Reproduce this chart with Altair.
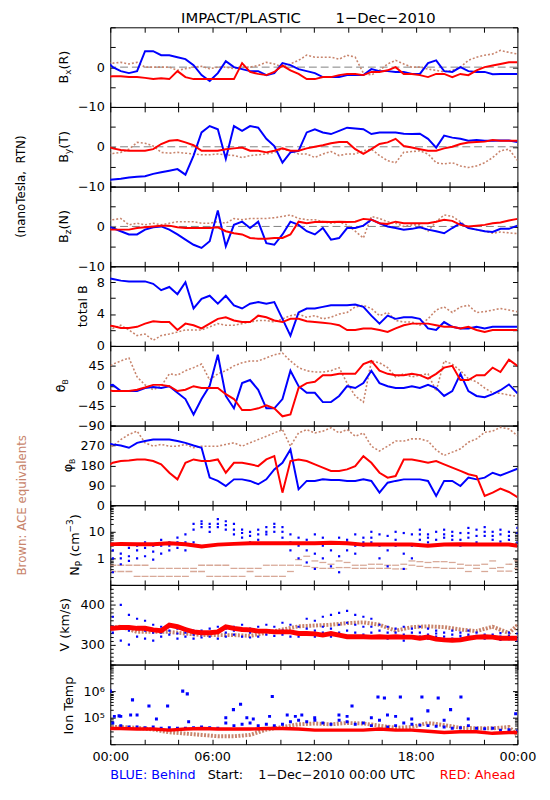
import altair as alt
import pandas as pd

W, H = 414, 81
BLUE, RED, BROWN, GRAY = "#0000ff", "#ff0000", "#c8846c", "#808080"
FONT = "DejaVu Sans"

# ---------------- time grids (hours of 1-Dec-2010) ----------------
T_HALF = [-0.33, 0.15, 0.62, 1.10, 1.58, 2.05, 2.53, 3.00, 3.48, 3.96, 4.43, 4.91,
          5.38, 5.86, 6.34, 6.81, 7.29, 7.77, 8.24, 8.72, 9.20, 9.67, 10.15, 10.62,
          11.10, 11.58, 12.06, 12.53, 13.01, 13.49, 13.96, 14.44, 14.92, 15.39, 15.87,
          16.35, 16.82, 17.30, 17.78, 18.25, 18.73, 19.21, 19.68, 20.16, 20.64, 21.11,
          21.59, 22.07, 22.54, 23.0, 23.5, 24.0]
T_HOUR = [-0.33, 0.62, 1.58, 2.53, 3.48, 4.43, 5.39, 6.34, 7.29, 8.24, 9.20, 10.15,
          11.10, 12.05, 13.01, 13.96, 14.91, 15.86, 16.82, 17.77, 18.72, 19.68, 20.63,
          21.58, 22.53, 23.5, 24.0]

# ---------------- Bx (R) ----------------
BX_BLUE = [2, 0, -1, -1.5, -1, 4, 4, 3, 3, 2.5, 2, 0.5, -2, -3.5, -1.5, 1.5, 0, -0.5, -1, -1, -2, -1.5, 1, 0.5,
           -0.5, -1, -1.5, -2.5, -2.5, -2.5, -2, -2, -2, -0.5, -1, -1, -1.2, -1.2, -1.7, -1.7, 1, 1.7, -1, -1.2,
           0, -1, -1.2, -1.2, -1.8, -1.7, -1.7, -1.7]
BX_RED = [-2.5, -2.3, -2.3, -2.5, -2.5, -2.7, -3, -2.8, -3, -1, -2.5, -3, -3, -3, -3, -3, -3, 1, -1.2, -1.7, -2,
          -1.2, 0.4, -0.8,
          -1.7, -3, -3, -2.5, -2.5, -2, -1.7, -1.7, -2, -1.2, -1.2, -0.8, 0, -1.7, -1.7, -2, -2.5, -1.7, -1.7,
          -2.5, -1.7, -2, -0.8, 0, 0.4, 0.8, 1.2, 1.2]
BX_BROWN = [1.2, 1, 1.2, 0.8, 1.2, 0, 0, 0, 0, -0.8, -0.4, 0, 0.2, -0.4, 0, 0, -0.4, 0, 0, 0.4, 1.2, 0.8, 0, 0.8,
            1.7, 3, 2.5, 2.5, 2.5, 2, 3, 2.5, -1.5, -2, -0.8, 0.8, 1.7, 0.8, 0, 0, -0.5, -0.8, -1.2, -0.8, 0,
            1.7, 2.5, 3, 3.3, 4.2, 3.7, 3.3]

# ---------------- By (T) ----------------
BY_BLUE = [-8.5, -8.2, -8, -7.7, -7.5, -7.4, -6.8, -6.4, -6, -5.6, -7, -2.2, 3.6, 5.2, 4.4, -3, 5.2, 4, 5.2, 4.8,
           2, 0.2, -4, -1.4,
           -1, 3.6, 4.4, 3.6, 3.2, 4, 4.8, 4.6, 4.4, 3.2, 3.6, 3.6, 3.6, 3.3, 3.2, 3.3, 2, -0.2, 2.8, 2.3, 2,
           1.5, 1.7, 1.5, 1.5, 1.6, 1.6, 1.2]
BY_RED = [0.4, -0.4, -0.8, -1, -1, -1, -0.6, 0.7, 1.5, 1.7, 1.1, 0.4, -1, -1, -1, -0.6, -0.4, -0.2, -1, -1, -1.4,
          -1, -0.4, -1,
          -1, -0.4, 0, 0.4, 0.9, 1.2, 1.2, -0.6, -1.8, -0.6, 0.7, 1.1, 2, 0.2, -0.2, -0.6, -1, -1, -0.4, 0, 0.7,
          1.1, 1.2, 1.3, 1.7, 1.5, 1.5, 1.5]
BY_BROWN = [-1.4, -1.7, -1.4, -0.6, 1.1, 0.9, 0.2, -1.4, -1.6, -1.4, -1.6, -1.8, -2, -2, -1.8, -2, -2.2, -2.7,
            -2.2, -2, -1.8, -1.4, -0.6, -1,
            -1.8, -1.8, -2.7, -1.8, -1.2, -2.2, -1.8, -1.8, -1, -0.6, -2.2, -3.5, -4, -1.4, -1.2, -1, -1.8, -4,
            -4.3, -4, -4.8, -5.2, -4.8, -4, -2.7, -1, -0.6, -3.4]

# ---------------- Bz (N) ----------------
BZ_BLUE = [0.4, -0.4, -1.2, -2, -2, -0.8, -0.2, 0, -0.8, -2, -3.3, -4.6, -5.4, -3.7, 4, -5, 0.4, 1.2, -0.4, 1.2,
           -4.2, -4.6, -2, 1.2,
           0.4, -1.2, -2, -0.4, -3.3, -2.9, -0.4, -0.4, 0.2, 1.7, 0.8, 0, -0.4, -0.8, -0.6, -0.2, -0.8, -1.2,
           -1.7, -0.4, 0.8, -0.4, -0.8, -1.2, -1.4, -0.6, -0.6, 0.2]
BZ_RED = [-0.8, -0.8, -0.8, -0.8, -0.4, -0.2, 0, 0.2, 0.2, -0.2, -0.4, -0.4, -0.4, -0.4, -0.2, -1.2, -1.7, -2,
          -2.9, -3.1, -3.1, -2.9, -2.9, -2,
          1.2, 0.8, 1.1, 1.2, 1.1, 1.2, 1.1, 1.2, 1.9, 1.7, 0.8, 0.6, 1.2, 0.8, 0.8, 0.8, 0.8, 1.2, 1.7, 1.4,
          0.4, 0, 0.2, 0.4, 0.8, 1, 1.5, 1.9]
BZ_BROWN = [1.2, 1.7, 2, 0.4, 0.8, 0.4, 0.8, 0.4, 0.8, 1.2, 1.2, 1.2, 0.8, 0.8, 1.2, 0.8, 2, 1.7, 2, 2, 2, 2.2,
            2.5, 2.9,
            2, 1.7, 1.7, 1.2, 0.8, 1.1, 0.4, -1.2, -2.9, 2.5, 2, 1.2, 0.8, 0, 0.4, 0.4, -1.2, 1.2, 2.9, 2.5,
            1.2, -0.4, -0.8, -1.2, -1.7, -1.4, -1.6, -1.8]

# ---------------- total B ----------------
BT_BLUE = [8.6, 8.4, 8.2, 8.1, 8.1, 8.1, 7.8, 7, 7.4, 6.5, 8, 4.7, 5.9, 6.3, 5.3, 6.3, 5.1, 4.7, 5.3, 5.5, 5.3,
           5.5, 3.4, 1.3,
           4.2, 4.7, 4.7, 4.9, 5.1, 5.1, 5.1, 5.2, 4.9, 3.8, 2.8, 3.8, 3.4, 3.6, 3.6, 3.4, 2.2, 2, 3, 2.4, 2.2,
           2.2, 2.4, 2.2, 2.4, 2.4, 2.4, 2.4]
BT_RED = [2.6, 2.5, 2.25, 2.25, 2.4, 2.8, 3.1, 3, 3, 2, 2.8, 2.6, 2.2, 2.8, 3.4, 3.6, 3.2, 3, 3, 3.8, 3.6, 3.2,
          3, 3.4,
          3.4, 3.1, 3, 2.9, 2.8, 2.6, 2, 2, 2.2, 2.2, 2, 1.75, 2.2, 2.6, 2.8, 2.8, 2.8, 2.6, 2.4, 2.4, 2.2, 2.4,
          2, 1.75, 2, 2, 2, 2]
BT_BROWN = [2.4, 2.2, 2.6, 2, 1.3, 1.5, 0.7, 1.3, 1.5, 1.75, 2, 2, 2, 2.4, 2.8, 2.6, 2.6, 2.8, 3, 3.2, 3.2, 3,
            3.4, 3.8,
            4, 3.6, 3.8, 3.4, 3.6, 4, 4.2, 4.9, 5.1, 4.7, 3.8, 4.2, 3.2, 3, 3, 2.6, 3.4, 4.5, 4.9, 4.2, 4.9,
            5.1, 4.2, 4.3, 4.5, 4.7, 4.5, 4.3]

# ---------------- theta_B ----------------
TH_BLUE = [-1, 2, -12, -12, -12, -5, -3, -5, -1, -16, -30, -65, -30, 0, 70, -23, -51, 6, 13, -9, -51, -51, -30,
           34,
           -1, -16, -16, -37, -37, -23, -1, -5, 6, 34, 6, -1, -5, -5, -1, -5, 2, -5, -23, -12, 27, -12, -23,
           -26, -19, -10, 3, -17]
TH_RED = [-9, -12, -12, -12, -9, -4, 2, 2, -1, -12, -9, -1, -5, -5, -5, -19, -30, -55, -55, -51, -44, -51, -69,
          -65,
          -5, 6, 9, 24, 24, 27, 27, 27, 49, 56, 34, 27, 24, 24, 27, 24, 16, 27, 41, 45, 13, 13, 24, 24, 41, 31,
          59, 45]
TH_BROWN = [34, 49, 56, 63, 20, 2, -9, -1, 27, 24, 34, 41, 49, 13, 27, 34, 45, 52, 56, 56, 63, 70, 74, 56,
            41, 34, 31, 31, 34, 41, 6, -23, -37, 56, 52, 41, 20, 27, 20, 24, 27, -12, 56, 49, 34, 16, 9, -5,
            -16, -17, -21, -24]

# ---------------- phi_B ----------------
PH_BLUE = [282, 275, 270, 260, 282, 290, 297, 297, 297, 290, 282, 270, 260, 125, 110, 87, 117, 117, 110, 95, 117,
           162, 192, 252,
           72, 110, 110, 117, 114, 114, 110, 110, 117, 110, 57, 102, 110, 117, 117, 117, 110, 42, 110, 110, 87,
           125, 117, 125, 147, 135, 150, 165]
PH_RED = [170, 192, 200, 202, 207, 207, 200, 185, 147, 117, 192, 207, 200, 200, 207, 147, 192, 192, 185, 177,
          207, 222, 57, 200,
          207, 200, 185, 170, 155, 155, 162, 177, 222, 192, 147, 125, 132, 207, 207, 200, 192, 200, 185, 170,
          155, 140, 132, 42, 57, 75, 60, 37]
PH_BROWN = [290, 267, 297, 320, 335, 282, 267, 275, 267, 267, 275, 260, 267, 267, 267, 275, 282, 267, 282, 297,
            312, 327, 342, 267,
            327, 342, 327, 335, 350, 327, 342, 312, 327, 267, 245, 267, 290, 290, 300, 300, 290, 250, 225, 240,
            255, 285, 300, 330, 335, 352, 345, 315]

# ---------------- Np (cm^-3) ----------------
NP_BLUE_HI = [3, 2, 1.5, 2.5, 3, 4, 3, 5, 4, 6, 8, 20, 25, 20, 30, 25, 20, 12, 10, 12, 15, 20, 15, 8,
              6, 5, 8, 6, 4, 6, 5, 8, 6, 10, 8, 7, 10, 9, 8, 12, 8, 10, 12, 10, 9, 14, 12, 15, 10, 12, 10, 14]
NP_BLUE_MID = [1.5, 1, 1, 1.2, 2, 2.5, 1.8, 3, 3, 4, 4, 12, 20, 15, 20, 18, 12, 9, 7, 8, 10, 15, 10, 4,
               3, 2, 1.5, 3, 2, 1.2, 4, 3, 4, 6, 3, 2, 5, 1.5, 3, 8, 6, 5, 8, 7, 5, 9, 7, 10, 7, 8, 7, 9]
NP_BLUE_LO = [0.5, 0.3, 0.6, 0.8, 1, 1.2, 0.9, 1.5, 2, 2.5, 2, 4, 15, 10, 15, 12, 8, 6, 4, 5, 8, 10, 6, 2,
              1, 0.7, 0.4, 1, 0.5, 0.3, 2, 1.5, 3, 4, 1, 0.5, 3, 0.4, 1, 5, 4, 3, 6, 5, 3, 6, 4, 7, 5, 4.3, 5, 4]
NP_RED = [3.3, 3.5, 3.4, 3.4, 3.7, 3.4, 2.8, 3.3, 3.5, 3.7, 3.7, 3.7, 3.7, 3.7, 3.9, 3.7, 3.3, 3.3, 3.3, 3.3,
          3.0, 3.3, 3.4, 3.3, 3.3, 3.3, 3.0]
NP_BROWN_A = [0.55, 0.55, 0.55, 0.55, 0.55, 0.55, 0.42, 0.42, 0.42, 0.42, 0.42, 0.42, 0.55, 0.55, 0.55, 0.55,
              0.42, 0.42, 0.42, 0.42, 0.55, 0.55, 0.55, 0.55,
              0.9, 1.2, 0.8, 0.7, 0.6, 0.8, 0.7, 0.55, 0.55, 0.6, 0.6, 0.55, 0.55, 0.6, 0.8, 0.75, 0.7, 0.75,
              0.75, 0.7, 0.6, 0.55, 0.55, 0.6, 0.8, 0.45, 0.6, 0.8]
NP_BROWN_B = [0.32, 0.32, 0.32, 0.32, 0.21, 0.21, 0.21, 0.21, 0.21, 0.21, 0.21, 0.32, 0.32, 0.21, 0.21, 0.21,
              0.21, 0.21, 0.32, 0.21, 0.21, 0.21, 0.21, 0.32,
              0.55, 0.5, 0.45, 0.42, 0.42, 0.45, 0.45, 0.42, 0.42, 0.42, 0.42, 0.42, 0.4, 0.4, 0.55, 0.5, 0.45,
              0.45, 0.42, 0.42, 0.42, 0.32, 0.42, 0.32, 0.42, 0.33, 0.33, 0.42]

# ---------------- V (km/s) ----------------
V_RED = [341, 341, 343, 343, 341, 341, 337, 335, 349, 345, 338, 332, 330, 330, 332, 345, 341, 338, 337, 334, 334,
         332, 332, 332,
         328, 328, 327, 324, 328, 324, 320, 320, 320, 319, 320, 319, 320, 319, 319, 316, 319, 314, 312, 311, 312,
         316, 319, 320, 319, 316, 316, 316]
V_BLUE_HI = [360, 370, 400, 375, 365, 360, 350, 345, 345, 340, 340, 335, 335, 340, 345, 340, 345, 350, 340, 345,
             350, 345, 355, 350,
             345, 365, 360, 370, 375, 380, 385, 375, 370, 365, 350, 345, 340, 345, 340, 345, 340, 335, 330, 335,
             330, 335, 330, 325, 325, 329, 330, 328]
V_BLUE_MID = [335, 345, 345, 335, 340, 335, 330, 330, 335, 328, 330, 325, 326, 330, 330, 330, 335, 335, 330, 332,
              335, 333, 335, 333,
              330, 340, 335, 345, 340, 350, 355, 350, 345, 345, 335, 330, 330, 325, 330, 330, 325, 328, 320, 325,
              322, 325, 322, 320, 322, 320, 322, 318]
V_BLUE_LO = [320, 330, 310, 300, 320, 315, 310, 320, 325, 315, 320, 315, 318, 320, 315, 320, 325, 320, 318, 320,
             325, 322, 325, 320,
             320, 325, 320, 330, 320, 330, 335, 330, 325, 330, 320, 315, 320, 310, 320, 320, 315, 320, 310, 315,
             315, 320, 318, 315, 320, 312, 314, 310]
V_BROWN = [341, 345, 332, 332, 332, 328, 324, 324, 324, 322, 330, 338, 346, 348, 350, 354, 356, 350, 335, 344,
           346, 344, 338, 334, 345, 329, 349]

# ---------------- Ion temperature (K) ----------------
TI_RED = [38900, 38900, 37200, 37200, 33900, 37200, 38900, 37200, 37200, 37200, 38900, 38900, 37200, 33900,
          33900, 33900, 33900, 37200, 33900, 33900, 30900, 27500, 29500, 29500, 25700, 27500, 27500]
TI_BROWN = [44700, 44700, 41700, 35500, 28200, 25100, 22400, 20000, 20000, 22400, 35500, 44700, 56200, 60300,
            56200, 63100, 60300, 50100, 41700, 44700, 63100, 52500, 41700, 39800, 39800, 44700, 21900]
TI_BLUE = [56200, 63100, 50100, 44700, 44700, 41700, 44700, 39800, 41700, 39800, 39800, 41700, 44700, 41700,
           39800, 63100, 50100, 56200, 63100, 50100, 56200, 50100, 56200, 70800,
           79400, 70800, 79400, 63100, 56200, 79400, 70800, 56200, 63100, 50100, 79400, 44700, 50100, 63100,
           56200, 52500, 50100, 47900, 44700, 39800, 41700, 50100, 39800, 38000, 39800, 33900, 35500, 31600]
TI_BLUE_MID_T = [0.24, 0.62, 1.2, 1.58, 2.72, 4.62, 6.81, 8.05, 8.43, 9.39, 10.43, 10.91, 11.29, 12.05, 13.48,
                 13.96, 15.39, 16.34, 16.82, 17.77, 19.68, 21.1]
TI_BLUE_MID = [112000, 112000, 126000, 126000, 89100, 70800, 100000, 100000, 89100, 112000, 126000, 112000,
               126000, 100000, 126000, 112000, 100000, 126000, 112000, 89100, 79400, 89100]
TI_BLUE_OUT_T = [0.0, 0.52, 1.31, 2.28, 3.38, 4.27, 4.54, 7.26, 7.68, 9.55, 14.25, 15.78, 16.16, 17.1, 18.37,
                 18.72, 19.33, 20.06, 20.67, 23.9]
TI_BLUE_OUT = [1.0e6, 1.17e5, 4.7e5, 2.75e5, 2.75e5, 1.0e6, 7.9e5, 2.0e5, 3.2e5, 6.3e5, 2.75e5, 6.0e5, 5.5e5,
               6.0e5, 6.0e5, 1.8e5, 5.5e5, 2.0e5, 6.0e5, 1.4e5]

X_TICKS = [0, 2, 4, 6, 8, 10, 12, 14, 16, 18, 20, 22, 24]
X_LABELS = {0: "00:00", 6: "06:00", 12: "12:00", 18: "18:00", 24: "00:00"}

# ---------------- helpers ----------------
XS = alt.Scale(domain=[0, 24], nice=False, zero=False)

CW = {"B": .686, "x": .592, "y": .592, "z": .525, "(": .390, ")": .390, "R": .695, "T": .611, "N": .748,
      "t": .392, "o": .612, "a": .613, "l": .278, " ": .318, "θ": .602, "φ": .660, "P": .603, "c": .550,
      "m": .974, "−": .838, "3": .636, "V": .684, "k": .579, "/": .337, "s": .521, "I": .295, "n": .634,
      "e": .615, "p": .635}


def tw(s, size):
    return sum(CW.get(ch, 0.6) for ch in s) * size


def yscale(dom, typ):
    if typ == "log":
        return alt.Scale(domain=dom, type="log", nice=False)
    return alt.Scale(domain=dom, nice=False, zero=False)


def mk_axis(orient, values, size=5, labels=None, pad=6):
    kw = dict(orient=orient, values=values, offset=-size, tickSize=size, tickColor="black", tickWidth=1,
              domain=False, grid=False, title=None, labelOverlap=False, labelFlush=False)
    if labels:
        expr = "".join(f"datum.value == {k} ? '{v}' : " for k, v in labels.items()) + "''"
        kw.update(labelExpr=expr, labelPadding=pad, labelFont=FONT, labelFontSize=13, labelColor="black")
    else:
        kw["labels"] = False
    return alt.Axis(**kw)


def axis_layer(ys, y0, xaxis, yaxis):
    df = pd.DataFrame({"t": [12.0], "v": [y0]})
    return alt.Chart(df).mark_point(opacity=0).encode(
        x=alt.X("t:Q", scale=XS, axis=xaxis),
        y=alt.Y("v:Q", scale=ys, axis=yaxis))


def data_layer(t, v, ys, kind, **kw):
    df = pd.DataFrame({"t": t, "v": v})
    ch = getattr(alt.Chart(df), "mark_" + kind)(clip=True, **kw)
    return ch.encode(x=alt.X("t:Q", scale=XS, axis=None), y=alt.Y("v:Q", scale=ys, axis=None))


def text_layer(txt, x, y, **kw):
    return alt.Chart(pd.DataFrame({"a": [0]})).mark_text(text=txt, font=FONT, **kw).encode(
        x=alt.value(x), y=alt.value(y))


def rot_title(segs, xc, yc=H / 2):
    pos, cum = [], 0.0
    for txt, size, dy, gap in segs:
        cum += gap
        pos.append(cum)
        cum += tw(txt, size)
    out = []
    for (txt, size, dy, gap), p in zip(segs, pos):
        out.append(text_layer(txt, xc, yc, angle=270, align="left", baseline="middle", fontSize=size,
                              dx=p - cum / 2, dy=dy, color="black"))
    return out


def panel(ydom, ytype, major, labels, minor, series, title, title_x, extra=(), xlab=False, zero=False):
    ys = yscale(ydom, ytype)
    y0 = ydom[0]
    layers = [
        axis_layer(ys, y0, mk_axis("bottom", X_TICKS, 5, X_LABELS if xlab else None, pad=7),
                   mk_axis("left", major, 5, labels, pad=6)),
        axis_layer(ys, y0, mk_axis("top", X_TICKS, 5), mk_axis("right", major, 5)),
    ]
    if minor:
        layers.append(axis_layer(ys, y0, None, mk_axis("left", minor, 3)))
        layers.append(axis_layer(ys, y0, None, mk_axis("right", minor, 3)))
    if zero:
        layers.append(alt.Chart(pd.DataFrame({"a": [0]})).mark_rule(
            color=GRAY, strokeDash=[8, 4], strokeWidth=1).encode(y=alt.YDatum(0, scale=ys, axis=None)))
    for t, v, kind, kw in series:
        layers.append(data_layer(t, v, ys, kind, **kw))
    layers += rot_title(title, title_x)
    layers += list(extra)
    return alt.layer(*layers).resolve_axis(x="independent", y="independent").properties(width=W, height=H)


LINE = dict(strokeWidth=2)
BROWN_LINE = dict(color=BROWN, strokeWidth=1.6, strokeDash=[2, 2])


def bseries(brown, blue, red, tb=T_HALF):
    return [(tb, brown, "line", BROWN_LINE),
            (T_HALF, blue, "line", dict(color=BLUE, **LINE)),
            (T_HALF, red, "line", dict(color=RED, **LINE))]


BTICKS = [-10, -5, 0, 5, 10]
BLAB = {-10: "−10", 0: "0"}
TTL_Y = -4

p1 = panel([-10, 10], "linear", BTICKS, BLAB, None, bseries(BX_BROWN, BX_BLUE, BX_RED),
           [("B", 13, 0, 0), ("x", 9, 4, 0), ("(R)", 13, 0, 0)], -47, zero=True,
           extra=[text_layer("IMPACT/PLASTIC", 72, TTL_Y, fontSize=15, align="left", baseline="alphabetic",
                             color="black"),
                  text_layer("1−Dec−2010", 229, TTL_Y, fontSize=15, align="left", baseline="alphabetic",
                             color="black")])
p2 = panel([-10, 10], "linear", BTICKS, BLAB, None, bseries(BY_BROWN, BY_BLUE, BY_RED),
           [("B", 13, 0, 0), ("y", 9, 4, 0), ("(T)", 13, 0, 0)], -47, zero=True,
           extra=[text_layer("(nanoTesla,\u00a0 RTN)", -91, H, fontSize=12, angle=270, align="center",
                             baseline="middle", color="black")])
p3 = panel([-10, 10], "linear", BTICKS, BLAB, None, bseries(BZ_BROWN, BZ_BLUE, BZ_RED),
           [("B", 13, 0, 0), ("z", 9, 4, 0), ("(N)", 13, 0, 0)], -47, zero=True)
p4 = panel([0, 10], "linear", [0, 2, 4, 6, 8, 10], {0: "0", 4: "4", 8: "8"}, None,
           bseries(BT_BROWN, BT_BLUE, BT_RED), [("total B", 13, 0, 0)], -28)
p5 = panel([-90, 90], "linear", [-90, -45, 0, 45, 90], {-90: "−90", -45: "−45", 0: "0", 45: "45"}, None,
           bseries(TH_BROWN, TH_BLUE, TH_RED), [("θ", 13, 0, 0), ("B", 8, 5, 0)], -50)
p6 = panel([0, 360], "linear", [0, 90, 180, 270, 360], {0: "0", 90: "90", 180: "180", 270: "270"}, None,
           bseries(PH_BROWN, PH_BLUE, PH_RED), [("φ", 13, 0, 0), ("B", 8, 5, 0)], -43,
           extra=[text_layer("Brown: ACE equivalents", -90, H, fontSize=12, angle=270, align="center",
                             baseline="middle", color=BROWN)])

NP_MINOR = [0.2, 0.3, 0.4, 0.5, 0.6, 0.7, 0.8, 0.9, 2, 3, 4, 5, 6, 7, 8, 9, 20, 30, 40, 50, 60, 70, 80, 90]
SQ = dict(color=BLUE, size=5, opacity=1)
p7 = panel([0.1, 100], "log", [0.1, 1, 10, 100], {1: "1", 10: "10"}, NP_MINOR,
           [(T_HALF, NP_BROWN_A, "tick", dict(color=BROWN, orient="horizontal", size=7, thickness=1.3)),
            (T_HALF, NP_BROWN_B, "tick", dict(color=BROWN, orient="horizontal", size=7, thickness=1.3)),
            (T_HALF, NP_BLUE_HI, "square", SQ),
            (T_HALF, NP_BLUE_MID, "square", SQ),
            (T_HALF, NP_BLUE_LO, "square", SQ),
            (T_HOUR, NP_RED, "line", dict(color=RED, strokeWidth=4))],
           [("N", 13, 0, 0), ("P", 9, 4, 0), ("(cm", 13, 0, 4.1), ("−3", 9, -5, 0), (")", 13, 0, 0)], -36)

V_MINOR = [v for v in range(250, 451, 10) if v not in (300, 400)]
p8 = panel([250, 450], "linear", [300, 400], {300: "300", 400: "400"}, V_MINOR,
           [(T_HOUR, V_BROWN, "line", dict(color=BROWN, strokeWidth=4, strokeDash=[2, 1.5])),
            (T_HALF, V_BLUE_HI, "square", SQ),
            (T_HALF, V_BLUE_MID, "square", SQ),
            (T_HALF, V_BLUE_LO, "square", SQ),
            (T_HALF, V_RED, "line", dict(color=RED, strokeWidth=5))],
           [("V (km/s)", 13, 0, 0)], -46)

TI_MINOR = [k * m for m in (1e4, 1e5, 1e6) for k in range(2, 10)]
p9 = panel([1e4, 1e7], "log", [1e4, 1e5, 1e6, 1e7], {100000: "10⁵", 1000000: "10⁶"}, TI_MINOR,
           [(T_HOUR, TI_BROWN, "line", dict(color=BROWN, strokeWidth=4, strokeDash=[2, 1.5])),
            (T_HALF, TI_BLUE, "square", dict(color=BLUE, size=9, opacity=1)),
            (TI_BLUE_MID_T, TI_BLUE_MID, "square", dict(color=BLUE, size=9, opacity=1)),
            (TI_BLUE_OUT_T, TI_BLUE_OUT, "square", dict(color=BLUE, size=10, opacity=1)),
            (T_HOUR, TI_RED, "line", dict(color=RED, strokeWidth=3.5))],
           [("Ion Temp", 13, 0, 0)], -42, xlab=True,
           extra=[text_layer("BLUE: Behind", 0, H + 35.7, fontSize=13, align="left", baseline="alphabetic",
                             color=BLUE),
                  text_layer("Start:", 99, H + 35.7, fontSize=13, align="left", baseline="alphabetic",
                             color="black"),
                  text_layer("1−Dec−2010 00:00 UTC", 150.5, H + 35.7, fontSize=13, align="left",
                             baseline="alphabetic", color="black"),
                  text_layer("RED: Ahead", 412, H + 35.7, fontSize=13, align="right", baseline="alphabetic",
                             color=RED)])

chart = alt.vconcat(p1, p2, p3, p4, p5, p6, p7, p8, p9, spacing=0, bounds="flush").properties(
    padding={"left": 6, "top": -4, "right": 5, "bottom": 5}
).configure_view(stroke="black", strokeWidth=1).configure_axis(labelFont=FONT)

chart.save("out.html", embed_options={"renderer": "svg", "actions": False})
